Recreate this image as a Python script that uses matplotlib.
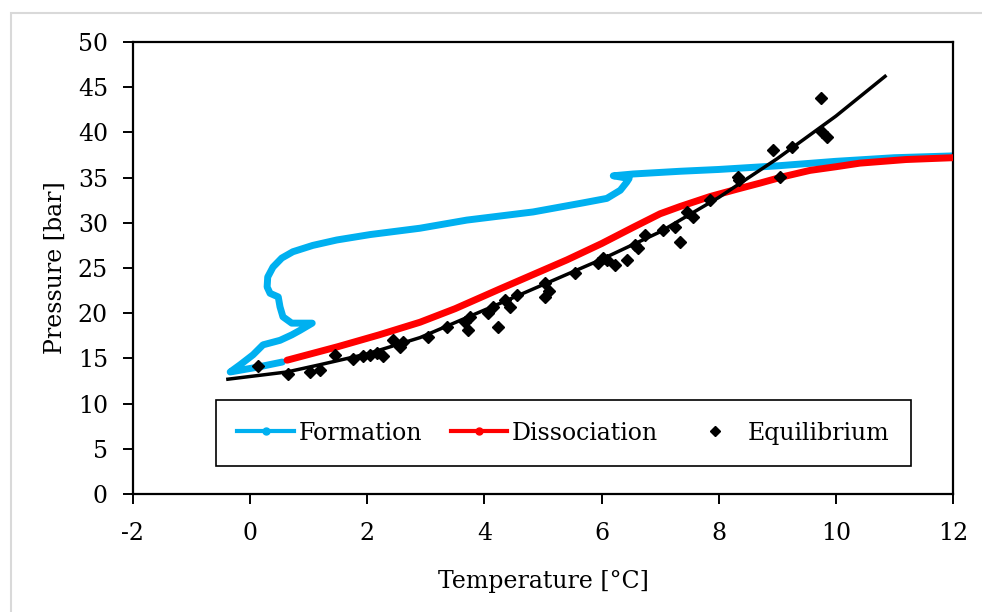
import numpy as np
from matplotlib import pyplot as plt
from matplotlib.lines import Line2D
from matplotlib.patches import Rectangle

# formation (blue) trace
form_T = [0.55, 0.10, -0.34, -0.17, 0.05, 0.22, 0.51, 0.71, 0.85, 1.06, 0.71, 0.56,
          0.51, 0.48, 0.34, 0.29, 0.30, 0.39, 0.54, 0.73, 1.07, 1.48, 2.05, 2.90,
          3.70, 4.83, 5.68, 6.09, 6.32, 6.43, 6.47, 6.20, 6.54, 7.34, 8.0, 9.0,
          10.0, 11.0, 12.0]
form_P = [14.6, 14.0, 13.5, 14.3, 15.4, 16.5, 17.0, 17.6, 18.1, 18.9, 18.9, 19.6,
          20.7, 21.8, 22.2, 22.9, 24.0, 25.1, 26.1, 26.8, 27.5, 28.1, 28.7, 29.4,
          30.3, 31.2, 32.2, 32.7, 33.6, 34.5, 34.9, 35.2, 35.4, 35.7, 35.9, 36.3,
          36.8, 37.2, 37.4]

# dissociation (red) trace
diss_T = [0.63, 1.5, 2.2, 2.9, 3.5, 4.27, 5.41, 6.0, 6.54, 7.0, 7.34, 7.85, 8.3,
          8.71, 9.1, 9.56, 10.0, 10.41, 11.2, 12.0]
diss_P = [14.8, 16.3, 17.6, 19.0, 20.5, 22.7, 25.9, 27.7, 29.5, 31.0, 31.8, 32.9,
          33.7, 34.4, 35.1, 35.8, 36.2, 36.6, 37.0, 37.2]

# equilibrium points
eq_T = [0.13, 0.65, 1.02, 1.19, 1.45, 1.76, 1.93, 2.05, 2.17, 2.27, 2.44, 2.56,
        2.61, 3.04, 3.36, 3.67, 3.72, 3.75, 4.06, 4.15, 4.23, 4.35, 4.44, 4.56,
        5.03, 5.03, 5.10, 5.55, 5.94, 6.02, 6.09, 6.23, 6.43, 6.57, 6.62, 6.74,
        7.05, 7.25, 7.34, 7.46, 7.56, 7.85, 8.33, 8.35, 8.93, 9.05, 9.25, 9.75,
        9.76, 9.85]
eq_P = [14.2, 13.3, 13.5, 13.7, 15.4, 14.9, 15.3, 15.4, 15.6, 15.3, 17.0, 16.3,
        16.8, 17.4, 18.5, 19.0, 18.1, 19.6, 20.0, 20.7, 18.5, 21.5, 20.7, 22.0,
        23.3, 21.8, 22.5, 24.4, 25.5, 26.1, 25.9, 25.3, 25.9, 27.5, 27.2, 28.6,
        29.2, 29.5, 27.9, 31.2, 30.6, 32.5, 35.1, 34.7, 38.1, 35.1, 38.4, 43.8,
        40.0, 39.5]

# equilibrium fit line
fit_T = [-0.38, 0.63, 1.19, 2.0, 2.9, 4.27, 5.98, 7.0, 8.0, 9.0, 10.0, 10.84]
fit_P = [12.7, 13.5, 14.3, 15.5, 17.3, 21.1, 25.9, 29.0, 32.8, 37.1, 41.8, 46.2]

BLUE = '#00B0F0'
RED = '#FF0000'

plt.rcParams['font.family'] = 'DejaVu Serif'
plt.rcParams['axes.unicode_minus'] = False
FS = 17

fig = plt.figure(figsize=(9.82, 6.12), dpi=100)
fig.patches.append(Rectangle((11 / 982, -0.01), 1.0, 1 - 13 / 612 + 0.01,
                             transform=fig.transFigure, fill=False,
                             edgecolor='#D9D9D9', lw=1.5))
ax = fig.add_axes([133 / 982, 1 - 494 / 612, 820 / 982, 452 / 612])

ax.plot(form_T, form_P, color=BLUE, lw=5, solid_capstyle='round',
        solid_joinstyle='round', zorder=2)
ax.plot(diss_T, diss_P, color=RED, lw=5, solid_capstyle='round',
        solid_joinstyle='round', zorder=3)
ax.plot(fit_T, fit_P, color='black', lw=2.5, zorder=4)
ax.plot(eq_T, eq_P, 'D', color='black', ms=6, zorder=5)

ax.set_xlim(-2, 12)
ax.set_ylim(0, 50)
ax.set_xticks(np.arange(-2, 13, 2))
ax.set_yticks(np.arange(0, 51, 5))
for s in ax.spines.values():
    s.set_linewidth(1.6)
ax.tick_params(direction='out', length=7, width=1.4, labelsize=FS)
ax.tick_params(axis='x', pad=13)
ax.tick_params(axis='y', pad=11)
ax.set_xlabel('Temperature [°C]', fontsize=FS, labelpad=18)
ax.set_ylabel('Pressure [bar]', fontsize=FS, labelpad=8)

handles = [
    Line2D([], [], color=BLUE, lw=3, marker='o', ms=5),
    Line2D([], [], color=RED, lw=3, marker='o', ms=5),
    Line2D([], [], color='black', lw=0, marker='D', ms=5),
]
leg = ax.legend(handles, ['Formation', 'Dissociation', 'Equilibrium'], ncol=3,
                loc='lower center', bbox_to_anchor=(0.525, 0.062), fontsize=FS,
                fancybox=False, edgecolor='black', framealpha=1,
                handlelength=2.4, handletextpad=0.2, columnspacing=1.2,
                borderpad=0.9, borderaxespad=0)
leg.get_frame().set_linewidth(1.2)

fig.savefig('out.png', dpi=100)
